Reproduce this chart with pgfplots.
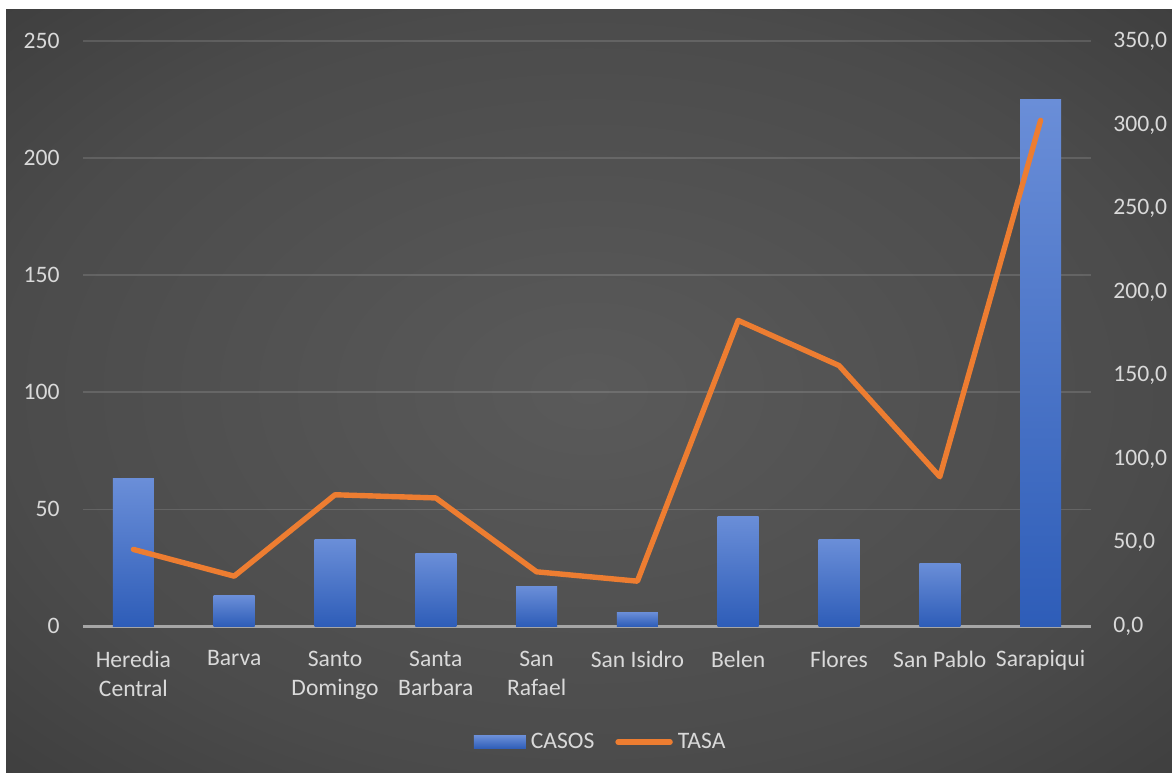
\documentclass[border=0pt]{standalone}
\usepackage{pgfplots}
\pgfplotsset{compat=1.18}
\usepackage{fontspec}
\setmainfont{Carlito}
\definecolor{txt}{HTML}{D9D9D9}
\definecolor{barTop}{HTML}{6A8ED8}
\definecolor{barBot}{HTML}{2E5DB8}
\definecolor{tasa}{HTML}{ED7D31}
\definecolor{axl}{HTML}{A6A6A6}
\pgfdeclareradialshading{bgshade}{\pgfpoint{0bp}{0bp}}{%
  color(0bp)=(rgb,255:red,90;green,90;blue,90);
  color(25bp)=(rgb,255:red,75;green,75;blue,75);
  color(40bp)=(rgb,255:red,58;green,58;blue,58);
  color(50bp)=(rgb,255:red,44;green,44;blue,44)}
\begin{document}
\begin{tikzpicture}
\path[use as bounding box] (0,0) rectangle (586pt,386pt);
\fill[white] (0,0) rectangle (586pt,386pt);
\shade[shading=bgshade] (3pt,0pt) rectangle (586pt,381pt);
\pgfplotsset{
  common/.style={
    scale only axis, width=504pt, height=292.5pt, at={(41.5pt,72.85pt)}, anchor=south west,
    xmin=-0.5, xmax=9.5, xtick={0,...,9},
    major tick length=0pt,
    font=\fontsize{11.8}{14.5}\selectfont,
    tick label style={text=txt},
    /pgf/number format/assume math mode=true,
  },
  casos/.style={ybar, bar shift=0pt, bar width=20.5pt, draw=none, top color=barTop, bottom color=barBot}
}
\begin{axis}[common,
  ymin=0, ymax=250, ytick={0,50,...,250},
  axis y line*=left, axis x line*=bottom,
  y axis line style={draw=none},
  x axis line style={draw=axl, line width=1.3pt, -},
  ymajorgrids, grid style={draw=white, opacity=0.13, line width=0.8pt},
  yticklabel style={anchor=east, inner sep=0pt, xshift=-11.5pt},
  xticklabels={{Heredia\\Central},Barva,{Santo\\Domingo},{Santa\\Barbara},{San\\Rafael},San Isidro,Belen,Flores,San Pablo,Sarapiqui},
  xticklabel style={align=center, anchor=north, inner sep=0pt, yshift=-12pt},
]
\addplot[casos] coordinates {(0,63)};
\addplot[casos] coordinates {(1,13)};
\addplot[casos] coordinates {(2,37)};
\addplot[casos] coordinates {(3,31)};
\addplot[casos] coordinates {(4,17)};
\addplot[casos] coordinates {(5,6)};
\addplot[casos] coordinates {(6,47)};
\addplot[casos] coordinates {(7,37)};
\addplot[casos] coordinates {(8,27)};
\addplot[casos] coordinates {(9,225)};
\end{axis}
\begin{axis}[common,
  ymin=0, ymax=350, ytick={0,50,...,350},
  axis y line*=right, axis x line=none,
  y axis line style={draw=none},
  xticklabels={},
  yticklabel style={anchor=west, inner sep=0pt, xshift=11pt,
    /pgf/number format/.cd, fixed, fixed zerofill, precision=1, use comma},
  legend style={at={(0.515,-0.198)}, anchor=center, draw=none, fill=none, text=txt,
    font=\fontsize{11.8}{14.5}\selectfont, inner xsep=0pt,
    nodes={inner xsep=2.5pt}},
  legend columns=2,
  legend cell align=left,
  /tikz/every even column/.append style={column sep=8pt},
]
\addlegendimage{legend image code/.code={\path[draw=none, top color=barTop, bottom color=barBot] (0pt,-3.25pt) rectangle (26pt,3.25pt);}}
\addlegendentry{CASOS}
\addplot[tasa, line width=2.7pt, line cap=round, line join=round,
  legend image code/.code={\draw[tasa, line width=2.7pt, line cap=round] (1pt,0pt) -- (27pt,0pt);}]
  coordinates {(0,46) (1,30) (2,78.7) (3,76.8) (4,32.6) (5,27) (6,183) (7,156) (8,89.5) (9,302.7)};
\addlegendentry{TASA}
\end{axis}
\end{tikzpicture}
\end{document}
